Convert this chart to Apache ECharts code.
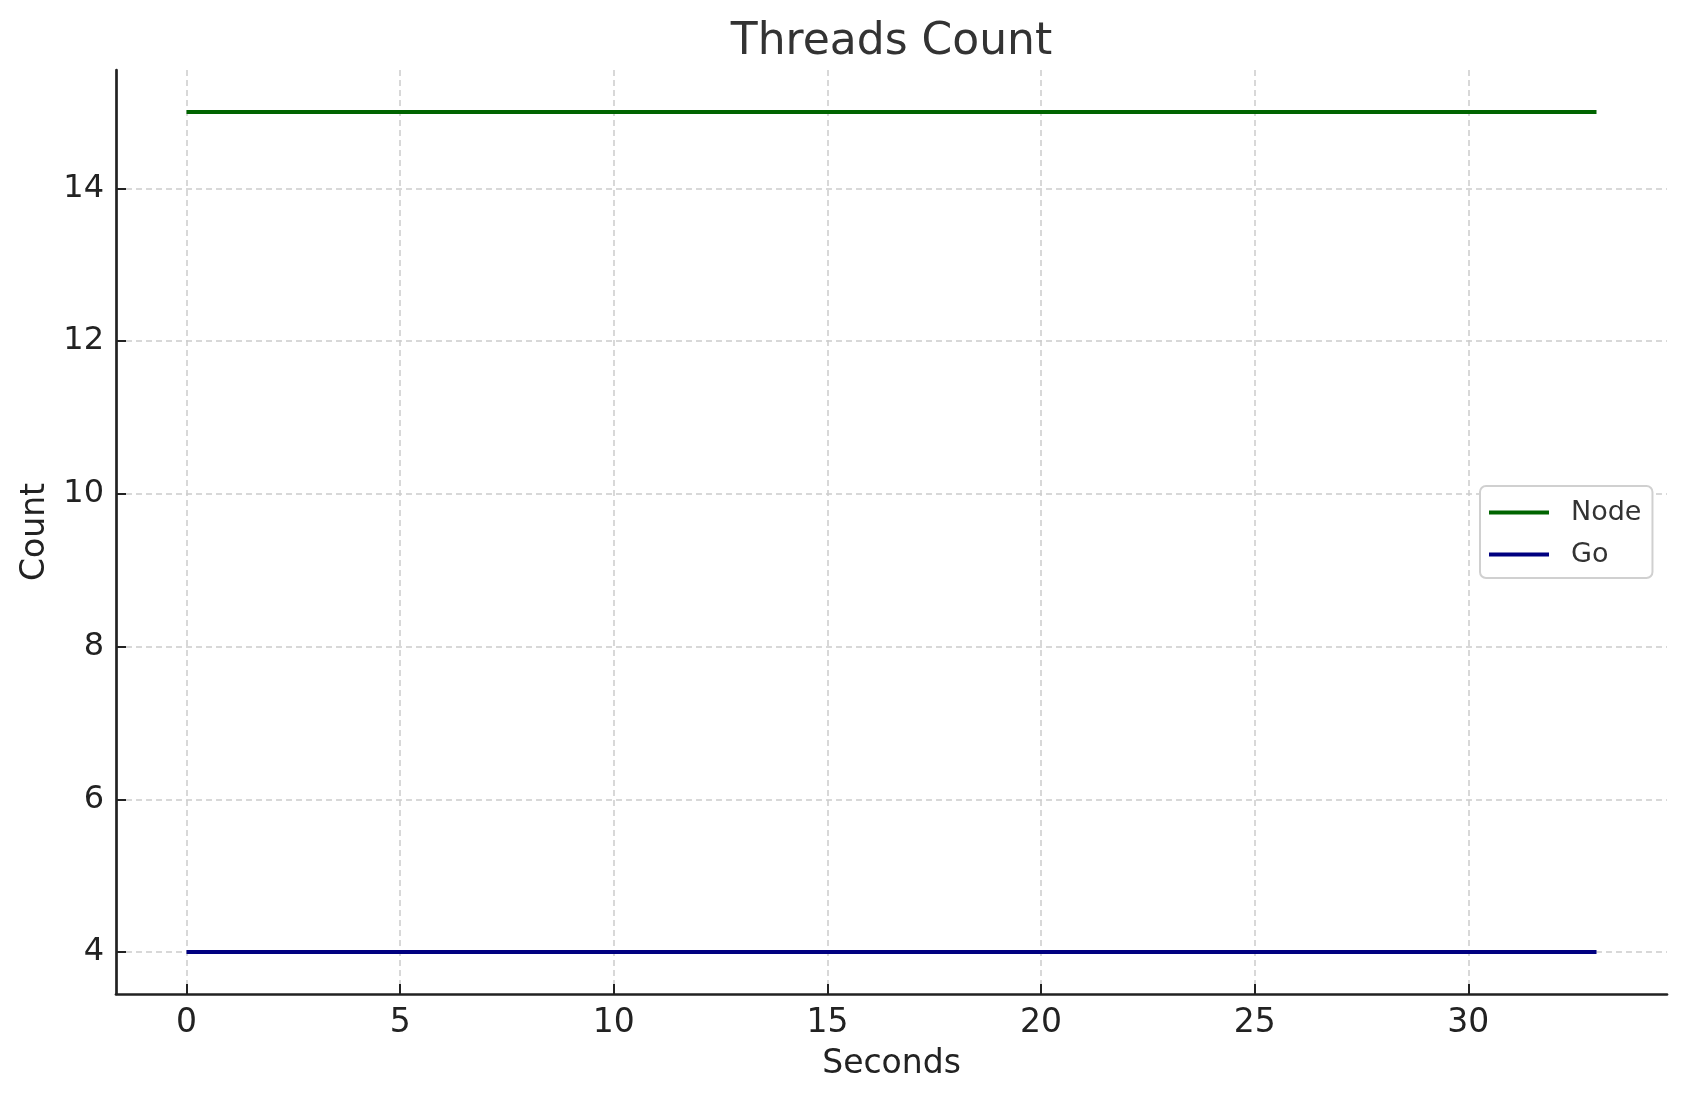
<!DOCTYPE html>
<html>
<head>
<meta charset="utf-8">
<script src="https://cdn.jsdelivr.net/npm/echarts@6/dist/echarts.min.js"></script>
<style>html,body{margin:0;padding:0;background:#fff;}#chart{width:1686px;height:1101px;}</style>
</head>
<body>
<div id="chart"></div>
<script>
const seconds = [0,1,2,3,4,5,6,7,8,9,10,11,12,13,14,15,16,17,18,19,20,21,22,23,24,25,26,27,28,29,30,31,32,33];
const nodeThreads = [15,15,15,15,15,15,15,15,15,15,15,15,15,15,15,15,15,15,15,15,15,15,15,15,15,15,15,15,15,15,15,15,15,15];
const goThreads = [4,4,4,4,4,4,4,4,4,4,4,4,4,4,4,4,4,4,4,4,4,4,4,4,4,4,4,4,4,4,4,4,4,4];
const xTicks = [0,5,10,15,20,25,30];
const yTicks = [4,6,8,10,12,14];

const FONT = 'DejaVu Sans';
const chart = echarts.init(document.getElementById('chart'), null, {renderer:'canvas'});
const pair = (xs, ys) => xs.map((x, i) => [x, ys[i]]);

chart.setOption({
  backgroundColor: '#ffffff',
  animation: false,
  textStyle: {fontFamily: FONT},
  title: {
    text: 'Threads Count',
    left: 886.5, top: 16, textAlign: 'center',
    textStyle: {fontFamily: FONT, fontSize: 44, fontWeight: 'normal', color: '#333333'}
  },
  grid: {left: 116, right: 19, top: 70, bottom: 107, containLabel: false},
  legend: {
    orient: 'vertical',
    left: 1480, top: 486,
    padding: [13, 11, 10, 9],
    itemWidth: 60, itemHeight: 4, itemGap: 15,
    icon: 'rect',
    borderColor: '#d0d0d0', borderWidth: 2, borderRadius: 6,
    backgroundColor: '#ffffff',
    textStyle: {fontFamily: FONT, fontSize: 27, color: '#333333', padding: [0,0,0,17], lineHeight: 27},
    data: ['Node', 'Go']
  },
  xAxis: {
    type: 'value', min: -1.65, max: 34.65,
    name: 'Seconds', nameLocation: 'middle', nameGap: 54,
    nameTextStyle: {fontFamily: FONT, fontSize: 33, color: '#222222'},
    axisLine: {show: true, onZero: false, lineStyle: {color: '#222222', width: 2.7}},
    axisTick: {show: true, inside: true, length: 10, lineStyle: {color: '#222222', width: 2}, customValues: xTicks},
    axisLabel: {fontFamily: FONT, fontSize: 33, color: '#222222', margin: 13, customValues: xTicks},
    splitLine: {show: true, lineStyle: {color: '#cccccc', width: 1.5, type: [6, 4]}}
  },
  yAxis: {
    type: 'value', min: 3.45, max: 15.55,
    name: 'Count', nameLocation: 'middle', nameGap: 61,
    nameTextStyle: {fontFamily: FONT, fontSize: 33, color: '#222222'},
    axisLine: {show: true, onZero: false, lineStyle: {color: '#222222', width: 2.7}},
    axisTick: {show: true, inside: true, length: 10, lineStyle: {color: '#222222', width: 2}, customValues: yTicks},
    axisLabel: {fontFamily: FONT, fontSize: 32, color: '#222222', margin: 12, customValues: yTicks},
    splitLine: {show: true, lineStyle: {color: '#cccccc', width: 1.5, type: [6, 4]}}
  },
  series: [
    {name: 'Node', type: 'line', data: pair(seconds, nodeThreads), showSymbol: false, symbol: 'none',
     color: '#006400', lineStyle: {color: '#006400', width: 4}, itemStyle: {color: '#006400'}},
    {name: 'Go', type: 'line', data: pair(seconds, goThreads), showSymbol: false, symbol: 'none',
     color: '#000080', lineStyle: {color: '#000080', width: 4}, itemStyle: {color: '#000080'}}
  ]
});
</script>
</body>
</html>
